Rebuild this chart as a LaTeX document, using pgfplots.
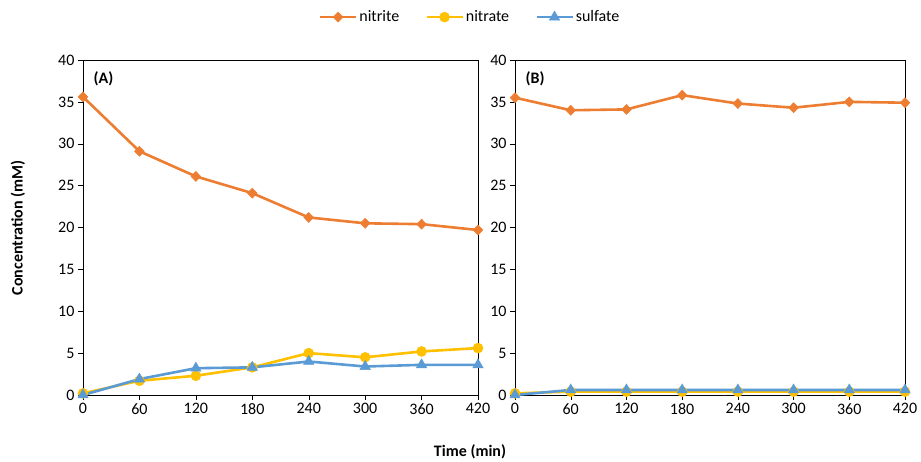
\documentclass[border=0pt]{standalone}
\usepackage{pgfplots}
\pgfplotsset{compat=1.18}
\usepackage{fontspec}
\setmainfont{Carlito}
\definecolor{cNitrite}{HTML}{ED7D31}
\definecolor{cNitrate}{HTML}{FFC000}
\definecolor{cSulfate}{HTML}{5B9BD5}
\pgfplotsset{
  panel/.style={
    scale only axis, height=335pt,
    xmin=0, xmax=420, ymin=0, ymax=40,
    xtick={0,60,...,420}, ytick={0,5,...,40},
    tick align=outside, tick style={black, thin},
    xtick pos=bottom, ytick pos=left,
    major tick length=5pt,
    axis line style={black, thin},
    tick label style={font=\fontsize{16}{18}\selectfont},
    /pgf/number format/assume math mode=true,
    clip=false,
  },
  sNitrite/.style={cNitrite, line width=2.6pt, mark=diamond*, mark size=5pt, mark options={solid, fill=cNitrite, line width=0.5pt, xscale=1.3}},
  sNitrate/.style={cNitrate, line width=2.6pt, mark=*, mark size=5pt, mark options={solid, fill=cNitrate, line width=0.5pt}},
  sSulfate/.style={cSulfate, line width=2.6pt, mark=triangle*, mark size=6pt, mark options={solid, fill=cSulfate, line width=0.5pt}},
}
\begin{document}
\begin{tikzpicture}
\useasboundingbox (0pt,-67pt) rectangle (921pt,395pt);
\begin{axis}[panel, at={(83pt,0pt)}, anchor=south west, width=395pt,
  legend columns=3,
  legend style={at={(axis description cs:0.98,1.128)}, anchor=center, draw=none,
    font=\fontsize{16}{18}\selectfont, /tikz/every even column/.append style={column sep=24pt}},
  legend image code/.code={\draw[#1, mark repeat=2, mark phase=2] plot coordinates {(0pt,0pt) (18pt,0pt) (36pt,0pt)};},
]
\addplot[sNitrite] coordinates {(0,35.6) (60,29.1) (120,26.1) (180,24.1) (240,21.2) (300,20.5) (360,20.4) (420,19.7)};
\addlegendentry{nitrite}
\addplot[sNitrate] coordinates {(0,0.2) (60,1.7) (120,2.3) (180,3.3) (240,5.0) (300,4.5) (360,5.2) (420,5.6)};
\addlegendentry{nitrate}
\addplot[sSulfate] coordinates {(0,0.0) (60,1.9) (120,3.2) (180,3.3) (240,4.0) (300,3.4) (360,3.6) (420,3.6)};
\addlegendentry{sulfate}
\node[anchor=north west, font=\bfseries\fontsize{16}{18}\selectfont] at (rel axis cs:0.018,0.975) {(A)};
\end{axis}
\begin{axis}[panel, at={(515pt,0pt)}, anchor=south west, width=390pt]
\addplot[sNitrite] coordinates {(0,35.5) (60,34.0) (120,34.1) (180,35.8) (240,34.8) (300,34.3) (360,35.0) (420,34.9)};
\addplot[sNitrate] coordinates {(0,0.2) (60,0.4) (120,0.4) (180,0.4) (240,0.4) (300,0.4) (360,0.4) (420,0.4)};
\addplot[sSulfate] coordinates {(0,0.0) (60,0.6) (120,0.6) (180,0.6) (240,0.6) (300,0.6) (360,0.6) (420,0.6)};
\node[anchor=north west, font=\bfseries\fontsize{16}{18}\selectfont] at (rel axis cs:0.018,0.975) {(B)};
\end{axis}
\node[rotate=90, font=\bfseries\fontsize{16}{18}\selectfont] at (18pt,167pt) {Concentration (mM)};
\node[font=\bfseries\fontsize{16}{18}\selectfont] at (470pt,-57pt) {Time (min)};
\end{tikzpicture}
\end{document}
